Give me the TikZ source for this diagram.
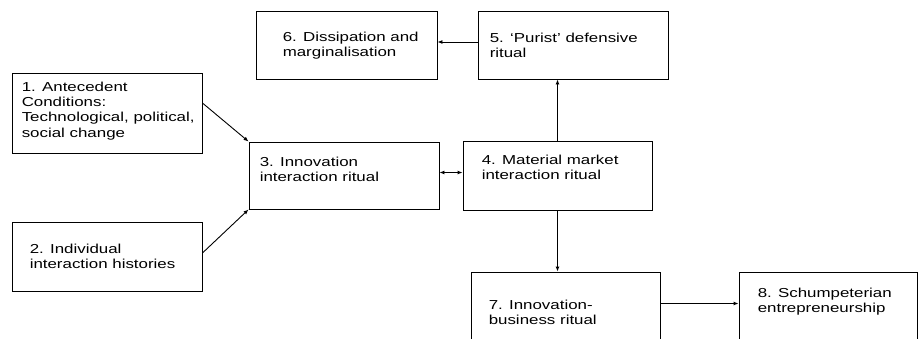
\documentclass[tikz,border=0pt]{standalone}
\usepackage{fontspec}
\setmainfont{Liberation Sans}[FakeStretch=1.3]
\usetikzlibrary{arrows.meta}

\begin{document}
\begin{tikzpicture}[x=1pt,y=-1pt,
  cadre/.style = {draw, line width=0.9pt, inner sep=0pt},
  texte/.style = {anchor=north west, inner sep=0pt, align=left, font=\fontsize{13}{15.3}\selectfont},
  fleche/.style = {line width=0.9pt, -{Latex[length=5pt,width=4pt]}}
  ]
\clip (0,0) rectangle (918,338);
\node[cadre, minimum width=190, minimum height=80] (b1) at (107,113) {};
\node[cadre, minimum width=190, minimum height=69] (b2) at (107,256.5) {};
\node[cadre, minimum width=190, minimum height=67] (b3) at (344,175.5) {};
\node[cadre, minimum width=189, minimum height=69] (b4) at (557.5,175.5) {};
\node[cadre, minimum width=190, minimum height=68] (b5) at (573,45) {};
\node[cadre, minimum width=181, minimum height=68] (b6) at (346.5,45) {};
\node[cadre, minimum width=189, minimum height=73] (b7) at (565.5,308.5) {};
\node[cadre, minimum width=178, minimum height=73] (b8) at (828,308.5) {};

\node[texte] (t1) at ([shift={(10,9)}]b1.north west) {1. Antecedent\\Conditions:\\Technological, political,\\social change};
\node[texte] (t2) at ([shift={(18,22)}]b2.north west) {2. Individual\\interaction histories};
\node[texte] (t3) at ([shift={(11,15)}]b3.north west) {3. Innovation\\interaction ritual};
\node[texte] (t4) at ([shift={(19,14)}]b4.north west) {4. Material market\\interaction ritual};
\node[texte] (t5) at ([shift={(12,22)}]b5.north west) {5. `Purist' defensive\\ritual};
\node[texte] (t6) at ([shift={(27,21)}]b6.north west) {6. Dissipation and\\marginalisation};
\node[texte] (t7) at ([shift={(18,28)}]b7.north west) {7. Innovation-\\business ritual};
\node[texte] (t8) at ([shift={(19,16)}]b8.north west) {8. Schumpeterian\\entrepreneurship};

\draw[fleche] ([yshift=10pt]b1.east) -- (b3.north west);
\draw[fleche] ([yshift=3.5pt]b2.east) -- (b3.south west);
\draw[fleche,{Latex[length=5pt,width=4pt]}-{Latex[length=5pt,width=4pt]}] ([yshift=3pt]b3.east) -- ([yshift=3pt]b4.west);
\draw[fleche] (b4.north) -- (b4.north |- b5.south);
\draw[fleche] ([yshift=3pt]b5.west) -- ([yshift=3pt]b6.east);
\draw[fleche] (b4.south) -- (b4.south |- b7.north);
\draw[fleche] ([yshift=5pt]b7.east) -- ([yshift=5pt]b8.west);

\end{tikzpicture}
\end{document}
